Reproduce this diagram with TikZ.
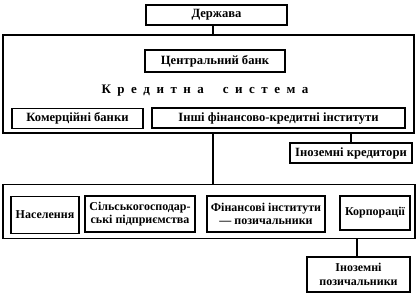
\documentclass[tikz,border=0pt]{standalone}
\usepackage{fontspec}
\setmainfont{Liberation Serif}
\begin{document}
\begin{tikzpicture}[x=1pt,y=-1pt,
  box/.style={draw,line width=1.3pt,inner sep=0pt,align=center,font=\fontsize{12.6}{13.5}\selectfont\bfseries},
  lowbox/.style={box,font=\fontsize{12}{13.5}\selectfont\bfseries},
  frame/.style={draw,line width=1.5pt,inner sep=0pt},
  conn/.style={line width=1.3pt}]
\useasboundingbox[fill=white] (0,0) rectangle (419,301);
% state
\node[box,minimum width=141pt,minimum height=20pt] (d) at (216.5,15) {Держава};
% credit system frame
\node[frame,minimum width=411pt,minimum height=98pt] (cs) at (208.5,84) {};
\node[box,minimum width=140pt,minimum height=22pt] (cb) at (215,61) {Центральний банк};
\node[font=\fontsize{13}{14}\selectfont\bfseries,inner sep=0pt] (ks) at (205,91)
  {К\hspace{6.5pt}р\hspace{6.5pt}е\hspace{6.5pt}д\hspace{6.5pt}и\hspace{6.5pt}т\hspace{6.5pt}н\hspace{6.5pt}а\hspace{19pt}с\hspace{6.5pt}и\hspace{6.5pt}с\hspace{6.5pt}т\hspace{6.5pt}е\hspace{6.5pt}м\hspace{6.5pt}а};
\node[box,minimum width=131pt,minimum height=20pt] (kb) at (77.5,118.5) {Комерційні банки};
\node[box,minimum width=253pt,minimum height=20pt] (ib) at (278.5,118) {Інші фінансово-кредитні інститути};
% foreign creditors
\node[box,minimum width=122pt,minimum height=20pt] (ik) at (351,153) {Іноземні кредитори};
% borrowers frame
\node[frame,minimum width=412pt,minimum height=54pt] (br) at (209,211.5) {};
\node[lowbox,minimum width=68pt,minimum height=37pt] (nas) at (45,215) {Населення};
\node[lowbox,minimum width=110pt,minimum height=36pt] (sil) at (140,214) {Сільськогосподар-\\ські підприємства};
\node[lowbox,minimum width=118pt,minimum height=36pt] (fin) at (266,214) {Фінансові інститути\\— позичальники};
\node[lowbox,minimum width=70pt,minimum height=34pt] (kor) at (375,213) {Корпорації};
% foreign borrowers
\node[lowbox,minimum width=103pt,minimum height=35pt] (ip) at (358.5,274.5) {Іноземні\\позичальники};
% connectors
\coordinate (x1) at (213,0);
\coordinate (x2) at (351,0);
\coordinate (x3) at (357,0);
\draw[conn] (x1 |- d.south) -- (x1 |- cs.north);
\draw[conn] (x1 |- cs.south) -- (x1 |- br.north);
\draw[conn] (x2 |- cs.south) -- (x2 |- ik.north);
\draw[conn] (x3 |- br.south) -- (x3 |- ip.north);
\end{tikzpicture}
\end{document}
